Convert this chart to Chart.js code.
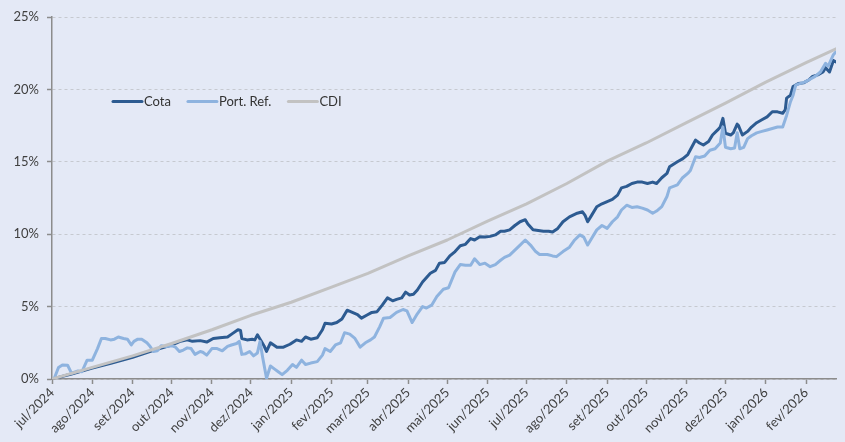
<!DOCTYPE html>
<html><head><meta charset="utf-8">
<script src="https://cdn.jsdelivr.net/npm/chart.js@4"></script>
<style>
html,body{margin:0;padding:0;background:#E4E9F6;overflow:hidden;}
canvas{display:block;}
</style></head><body>
<canvas id="c" width="845" height="442"></canvas>
<script>
// Dias corridos desde 01/07/2024
const inicio = [2024, 6, 1];
const meses = ['jul/2024','ago/2024','set/2024','out/2024','nov/2024','dez/2024','jan/2025','fev/2025','mar/2025','abr/2025','mai/2025','jun/2025','jul/2025','ago/2025','set/2025','out/2025','nov/2025','dez/2025','jan/2026','fev/2026'];
const ultimoDia = 603;
const yTicks = [0, 5, 10, 15, 20, 25];

const cotaDias = [
0,15,31,46,62,77,92,96,98,104,
108,114,119,124,129,135,139,143,145,146,
150,154,156,158,161,163,165,168,173,178,
183,188,192,195,199,204,208,210,215,219,
223,227,231,235,238,242,246,250,254,258,
262,265,269,272,275,278,281,285,291,295,
298,302,306,310,314,318,322,325,329,333,
337,341,345,348,352,356,360,364,366,370,
374,378,382,385,389,393,398,404,408,410,
412,415,419,423,427,431,435,438,442,446,
450,454,458,462,465,469,473,475,481,485,
489,492,495,498,501,505,508,512,514,516,
518,522,524,527,528,531,535,538,542,546,
550,554,558,562,564,565,568,570,574,578,
582,585,589,593,595,598,601,603];
const cotaValores = [
0,0.35,0.75,1.1,1.5,1.95,2.35,2.5,2.58,2.7,
2.6,2.65,2.55,2.8,2.85,2.9,3.15,3.4,3.35,2.8,
2.7,2.75,2.7,3.05,2.6,2.3,1.9,2.5,2.2,2.2,
2.4,2.7,2.6,2.9,2.75,2.85,3.4,3.85,3.8,3.9,
4.15,4.75,4.6,4.45,4.2,4.4,4.6,4.65,5.1,5.6,
5.4,5.5,5.6,6.0,5.8,5.85,6.15,6.7,7.3,7.5,
8.0,8.05,8.5,8.8,9.2,9.3,9.7,9.6,9.83,9.8,
9.85,9.95,10.2,10.2,10.3,10.6,10.86,11.0,10.7,10.3,
10.25,10.2,10.2,10.15,10.4,10.86,11.2,11.45,11.55,11.3,
10.86,11.3,11.9,12.1,12.25,12.4,12.7,13.2,13.3,13.5,
13.6,13.6,13.5,13.6,13.5,13.9,14.2,14.66,15.0,15.2,
15.5,16.0,16.5,16.3,16.16,16.4,16.85,17.2,17.4,18.0,
16.97,16.85,17.0,17.6,17.5,16.85,17.1,17.4,17.7,17.9,
18.1,18.46,18.45,18.35,18.6,19.4,19.6,20.2,20.4,20.45,
20.65,20.9,21.0,21.2,21.5,21.2,22.0,21.9];

const portDias = [
0,2,5,8,12,15,20,23,27,31,
35,38,41,45,48,51,55,58,61,63,
66,69,73,75,78,81,84,88,92,95,
98,101,104,107,110,114,116,119,123,127,
131,135,138,142,144,146,149,152,155,158,
160,162,165,168,171,174,177,181,185,188,
192,195,199,204,208,210,214,218,222,225,
229,233,237,241,245,248,252,255,260,265,
270,273,277,281,285,288,292,296,301,305,
310,314,318,322,325,329,333,337,341,345,
348,352,356,360,364,368,372,375,381,385,
388,393,398,402,406,409,412,415,419,423,
427,431,435,438,442,446,450,454,458,462,
465,469,473,475,481,485,489,491,495,498,
502,506,510,514,516,518,522,525,527,529,
532,535,538,542,546,550,554,558,562,565,
568,570,572,575,579,583,587,591,595,597,
601,603];
const portValores = [
0,0.1,0.8,0.97,0.95,0.4,0.55,0.5,1.3,1.3,
2.1,2.8,2.8,2.7,2.75,2.9,2.8,2.75,2.35,2.6,
2.75,2.75,2.5,2.3,1.9,1.95,2.3,2.25,2.3,2.2,
1.9,2.0,2.15,2.1,1.7,1.9,1.85,1.65,2.1,2.1,
1.95,2.25,2.35,2.45,2.6,1.7,1.75,1.9,1.6,1.8,
2.6,1.5,0.05,0.9,0.7,0.5,0.3,0.6,1.0,0.8,
1.3,1.0,1.1,1.2,1.65,2.1,1.9,2.35,2.5,3.2,
3.1,2.8,2.2,2.5,2.7,2.9,3.6,4.2,4.25,4.6,
4.8,4.7,3.9,4.5,5.0,4.9,5.1,5.7,6.2,6.3,
7.4,7.9,7.85,7.85,8.3,7.9,8.0,7.76,7.9,8.2,
8.4,8.56,8.9,9.25,9.6,9.25,8.8,8.6,8.6,8.5,
8.45,8.8,9.1,9.6,9.95,9.8,9.25,9.7,10.3,10.6,
10.4,10.86,11.2,11.67,12.0,11.85,11.9,11.8,11.67,11.45,
11.6,11.9,12.6,13.2,13.4,13.9,14.2,14.4,15.35,15.3,
15.4,15.8,15.9,16.3,17.4,16.0,15.9,15.95,17.0,15.9,
16.0,16.6,16.8,17.0,17.1,17.2,17.3,17.4,17.4,18.2,
19.15,19.6,20.3,20.4,20.5,20.7,20.9,21.2,21.8,21.6,
22.4,22.6];

const cdiDias = [0,31,62,92,123,153,184,215,243,274,304,335,365,396,427,457,488,518,549,580,603];
const cdiValores = [0,0.8,1.6,2.45,3.4,4.4,5.3,6.35,7.3,8.5,9.6,10.9,12.1,13.5,15.05,16.3,17.7,19.05,20.5,21.85,22.8];

const nomesSeries = ['Cota', 'Port. Ref.', 'CDI'];
const coresSeries = ['#2D5B91', '#8EB3DF', '#C2C2C2'];

// ---- helpers ----
const abrev = {jan:0,fev:1,mar:2,abr:3,mai:4,jun:5,jul:6,ago:7,set:8,out:9,nov:10,dez:11};
const base = Date.UTC(inicio[0], inicio[1], inicio[2]);
const mesesDias = meses.map(m => {
  const [a, y] = m.split('/');
  return Math.round((Date.UTC(+y, abrev[a], 1) - base) / 86400000);
});
const rotuloPorDia = {};
mesesDias.forEach((d, i) => rotuloPorDia[d] = meses[i]);
const pares = (d, v) => d.map((x, i) => ({x: x, y: v[i]}));

const FONT = 'Lato, "Open Sans", sans-serif';

const fundo = {
  id: 'fundo',
  beforeDraw(chart) {
    const c = chart.ctx;
    c.save(); c.fillStyle = '#E4E9F6'; c.fillRect(0, 0, chart.width, chart.height); c.restore();
  }
};
const legenda = {
  id: 'legenda',
  afterDraw(chart) {
    const c = chart.ctx, ca = chart.chartArea;
    let x = ca.left + 61;
    const y = ca.top + 84.5;
    c.save();
    c.font = '13px ' + FONT;
    c.textBaseline = 'middle';
    c.textAlign = 'left';
    chart.data.datasets.forEach(ds => {
      c.strokeStyle = ds.borderColor; c.lineWidth = 3; c.lineCap = 'round';
      c.beginPath(); c.moveTo(x, y); c.lineTo(x + 29, y); c.stroke();
      x += 31;
      c.fillStyle = '#333333';
      c.fillText(ds.label, x, y + 0.5);
      x += c.measureText(ds.label).width + 17;
    });
    c.restore();
  }
};

function desenhar() {
  new Chart(document.getElementById('c'), {
    type: 'line',
    data: {
      datasets: [
        {label: nomesSeries[0], data: pares(cotaDias, cotaValores), borderColor: coresSeries[0], borderWidth: 3, order: 2},
        {label: nomesSeries[1], data: pares(portDias, portValores), borderColor: coresSeries[1], borderWidth: 3, order: 1},
        {label: nomesSeries[2], data: pares(cdiDias, cdiValores), borderColor: coresSeries[2], borderWidth: 3, order: 0}
      ]
    },
    options: {
      responsive: false,
      animation: false,
      parsing: false,
      elements: {point: {radius: 0}, line: {tension: 0, borderJoinStyle: 'round', borderCapStyle: 'round'}},
      layout: {padding: {top: 17, right: 9, left: 0, bottom: 0}},
      plugins: {legend: {display: false}, tooltip: {enabled: false}},
      scales: {
        x: {
          type: 'linear', min: 0, max: ultimoDia,
          afterBuildTicks: s => { s.ticks = mesesDias.map(v => ({value: v})); },
          afterFit: s => { s.height = 63; },
          ticks: {
            autoSkip: false, maxRotation: 45, minRotation: 45, padding: 1,
            color: '#404040', font: {family: FONT, size: 13},
            callback: v => rotuloPorDia[v] || ''
          },
          grid: {drawOnChartArea: false, drawTicks: true, tickLength: 5, tickColor: '#8C8C8C', tickWidth: 1.5},
          border: {color: '#8C8C8C', width: 1.5}
        },
        y: {
          min: 0, max: 25,
          afterBuildTicks: s => { s.ticks = yTicks.map(v => ({value: v})); },
          afterFit: s => { s.width = 52; },
          ticks: {
            padding: 8, color: '#404040', font: {family: FONT, size: 13},
            callback: v => v + '%'
          },
          grid: {color: '#C6C9D0', lineWidth: 1, tickLength: 5, tickColor: '#8C8C8C', tickWidth: 1.5, tickBorderDash: []},
          border: {color: '#8C8C8C', width: 1.5, dash: [3, 3]}
        }
      }
    },
    plugins: [fundo, legenda]
  });
}
if (document.fonts && document.fonts.load) {
  document.fonts.load('13px Lato').then(desenhar, desenhar);
} else { desenhar(); }
</script>
</body></html>
